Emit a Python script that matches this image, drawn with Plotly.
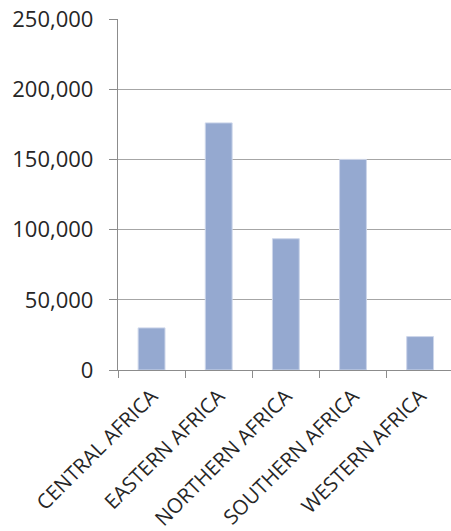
import plotly.graph_objects as go

regions = ["CENTRAL AFRICA", "EASTERN AFRICA", "NORTHERN AFRICA", "SOUTHERN AFRICA", "WESTERN AFRICA"]
values = [30000, 176000, 93500, 150000, 23800]
y_ticks = [0, 50000, 100000, 150000, 200000, 250000]
y_tick_labels = ["0", "50,000", "100,000", "150,000", "200,000", "250,000"]

fig = go.Figure(go.Bar(
    x=regions, y=values,
    marker=dict(color="#95a9d0", line=dict(color="#cdd6ea", width=1)),
))

font = "Open Sans, DejaVu Sans, sans-serif"
fig.update_layout(
    width=451, height=531,
    margin=dict(l=118, r=0, t=19, b=161, autoexpand=False),
    plot_bgcolor="white", paper_bgcolor="white",
    bargap=0.6, showlegend=False,
    font=dict(family=font, color="#262626"),
)
fig.update_xaxes(
    range=[-0.5, 4.46], showline=True, linecolor="#8c8c8c", linewidth=1.3,
    ticks="outside", tickson="boundaries", ticklen=7, tickcolor="#8c8c8c", tickwidth=1.3,
    tickangle=-45, tickfont=dict(size=20.5, family=font, color="#262626"),
    ticklabelstandoff=5,
    showgrid=False, automargin=False, fixedrange=True,
)
fig.update_yaxes(
    range=[0, 250000], tickvals=y_ticks, ticktext=y_tick_labels,
    showline=True, linecolor="#8c8c8c", linewidth=1.3,
    ticks="outside", ticklen=8, tickcolor="#8c8c8c", tickwidth=1.3,
    showgrid=True, gridcolor="#a6a6a6", gridwidth=1.3, zeroline=False,
    tickfont=dict(size=22, family=font, color="#262626"),
    ticklabelstandoff=11, automargin=False, fixedrange=True,
)
fig.write_html("out.html", config={"displayModeBar": False})
